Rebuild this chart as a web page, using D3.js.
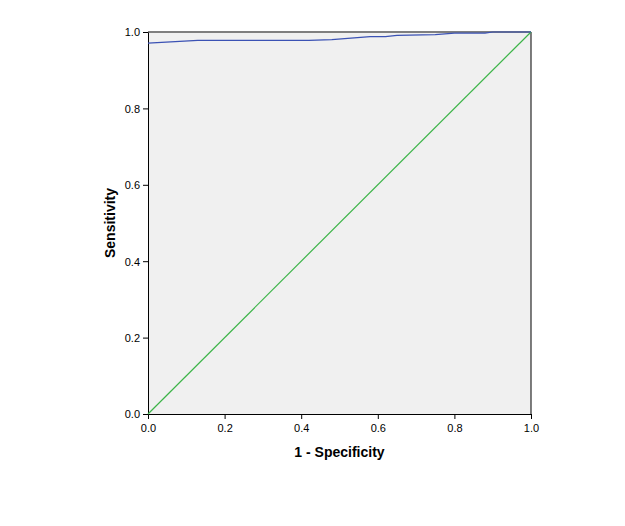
<!DOCTYPE html>
<html>
<head>
<meta charset="utf-8">
<script src="https://cdn.jsdelivr.net/npm/d3@7"></script>
<style>
  body { margin: 0; background: #fff; }
  text { font-family: "Liberation Sans", Arial, sans-serif; }
</style>
</head>
<body>
<div id="chart"></div>
<script>
// ROC curve points
var fpr = [0, 0.13, 0.42, 0.48, 0.58, 0.62, 0.65, 0.75, 0.80, 0.88, 0.90, 1.0];
var tpr = [0.971, 0.978, 0.978, 0.980, 0.988, 0.988, 0.991, 0.993, 0.997, 0.997, 1.0, 1.0];
var refLine = [0, 1];
var ticks = [0, 0.2, 0.4, 0.6, 0.8, 1.0];

var svgWidth = 625, svgHeight = 526;
var margin = {top: 32, right: 94, bottom: 112, left: 148};
var width = 531 - margin.left;
var height = 414 - margin.top;

var svg = d3.select("#chart").append("svg")
  .attr("width", svgWidth)
  .attr("height", svgHeight);

var g = svg.append("g")
  .attr("transform", `translate(${margin.left}, ${margin.top})`);

var x = d3.scaleLinear().domain([0, 1]).range([0, width]);
var y = d3.scaleLinear().domain([0, 1]).range([height, 0]);

g.append("rect")
  .attr("width", width).attr("height", height)
  .attr("fill", "#f0f0f0");

// frame: gray top, black right
g.append("line").attr("x1", 0).attr("x2", width).attr("y1", 0).attr("y2", 0)
  .attr("stroke", "#7f7f7f").attr("stroke-width", 2);
g.append("line").attr("x1", width).attr("x2", width).attr("y1", 0).attr("y2", height)
  .attr("stroke", "#000").attr("stroke-width", 1);

var bottomAxis = d3.axisBottom(x).tickValues(ticks).tickFormat(d3.format(".1f")).tickSize(5).tickSizeOuter(0);
var leftAxis = d3.axisLeft(y).tickValues(ticks).tickFormat(d3.format(".1f")).tickSize(5).tickSizeOuter(0);

var xa = g.append("g").attr("transform", `translate(0, ${height})`).call(bottomAxis);
var ya = g.append("g").call(leftAxis);
[xa, ya].forEach(function(a) {
  a.selectAll("text").attr("font-size", 11).attr("fill", "#000")
    .attr("font-family", "'Liberation Sans', Arial, sans-serif");
  a.selectAll("line, path").attr("stroke", "#000");
});
xa.selectAll("text").attr("dy", "0.9em");
ya.selectAll("text").attr("dy", "0.35em");

// reference diagonal
g.append("line")
  .attr("x1", x(refLine[0])).attr("y1", y(refLine[0]))
  .attr("x2", x(refLine[1])).attr("y2", y(refLine[1]))
  .attr("stroke", "#3cb448").attr("stroke-width", 1.2);

var line = d3.line().x(function(d, i) { return x(d); }).y(function(d, i) { return y(tpr[i]); });
g.append("path")
  .datum(fpr)
  .attr("d", line)
  .attr("fill", "none")
  .attr("stroke", "#3b52b4")
  .attr("stroke-width", 1.2);

svg.append("text")
  .attr("x", margin.left + width / 2).attr("y", 457)
  .attr("text-anchor", "middle")
  .attr("font-size", 14).attr("font-weight", "bold")
  .text("1 - Specificity");

svg.append("text")
  .attr("transform", `translate(115, ${margin.top + height / 2}) rotate(-90)`)
  .attr("text-anchor", "middle")
  .attr("font-size", 14).attr("font-weight", "bold")
  .text("Sensitivity");
</script>
</body>
</html>
